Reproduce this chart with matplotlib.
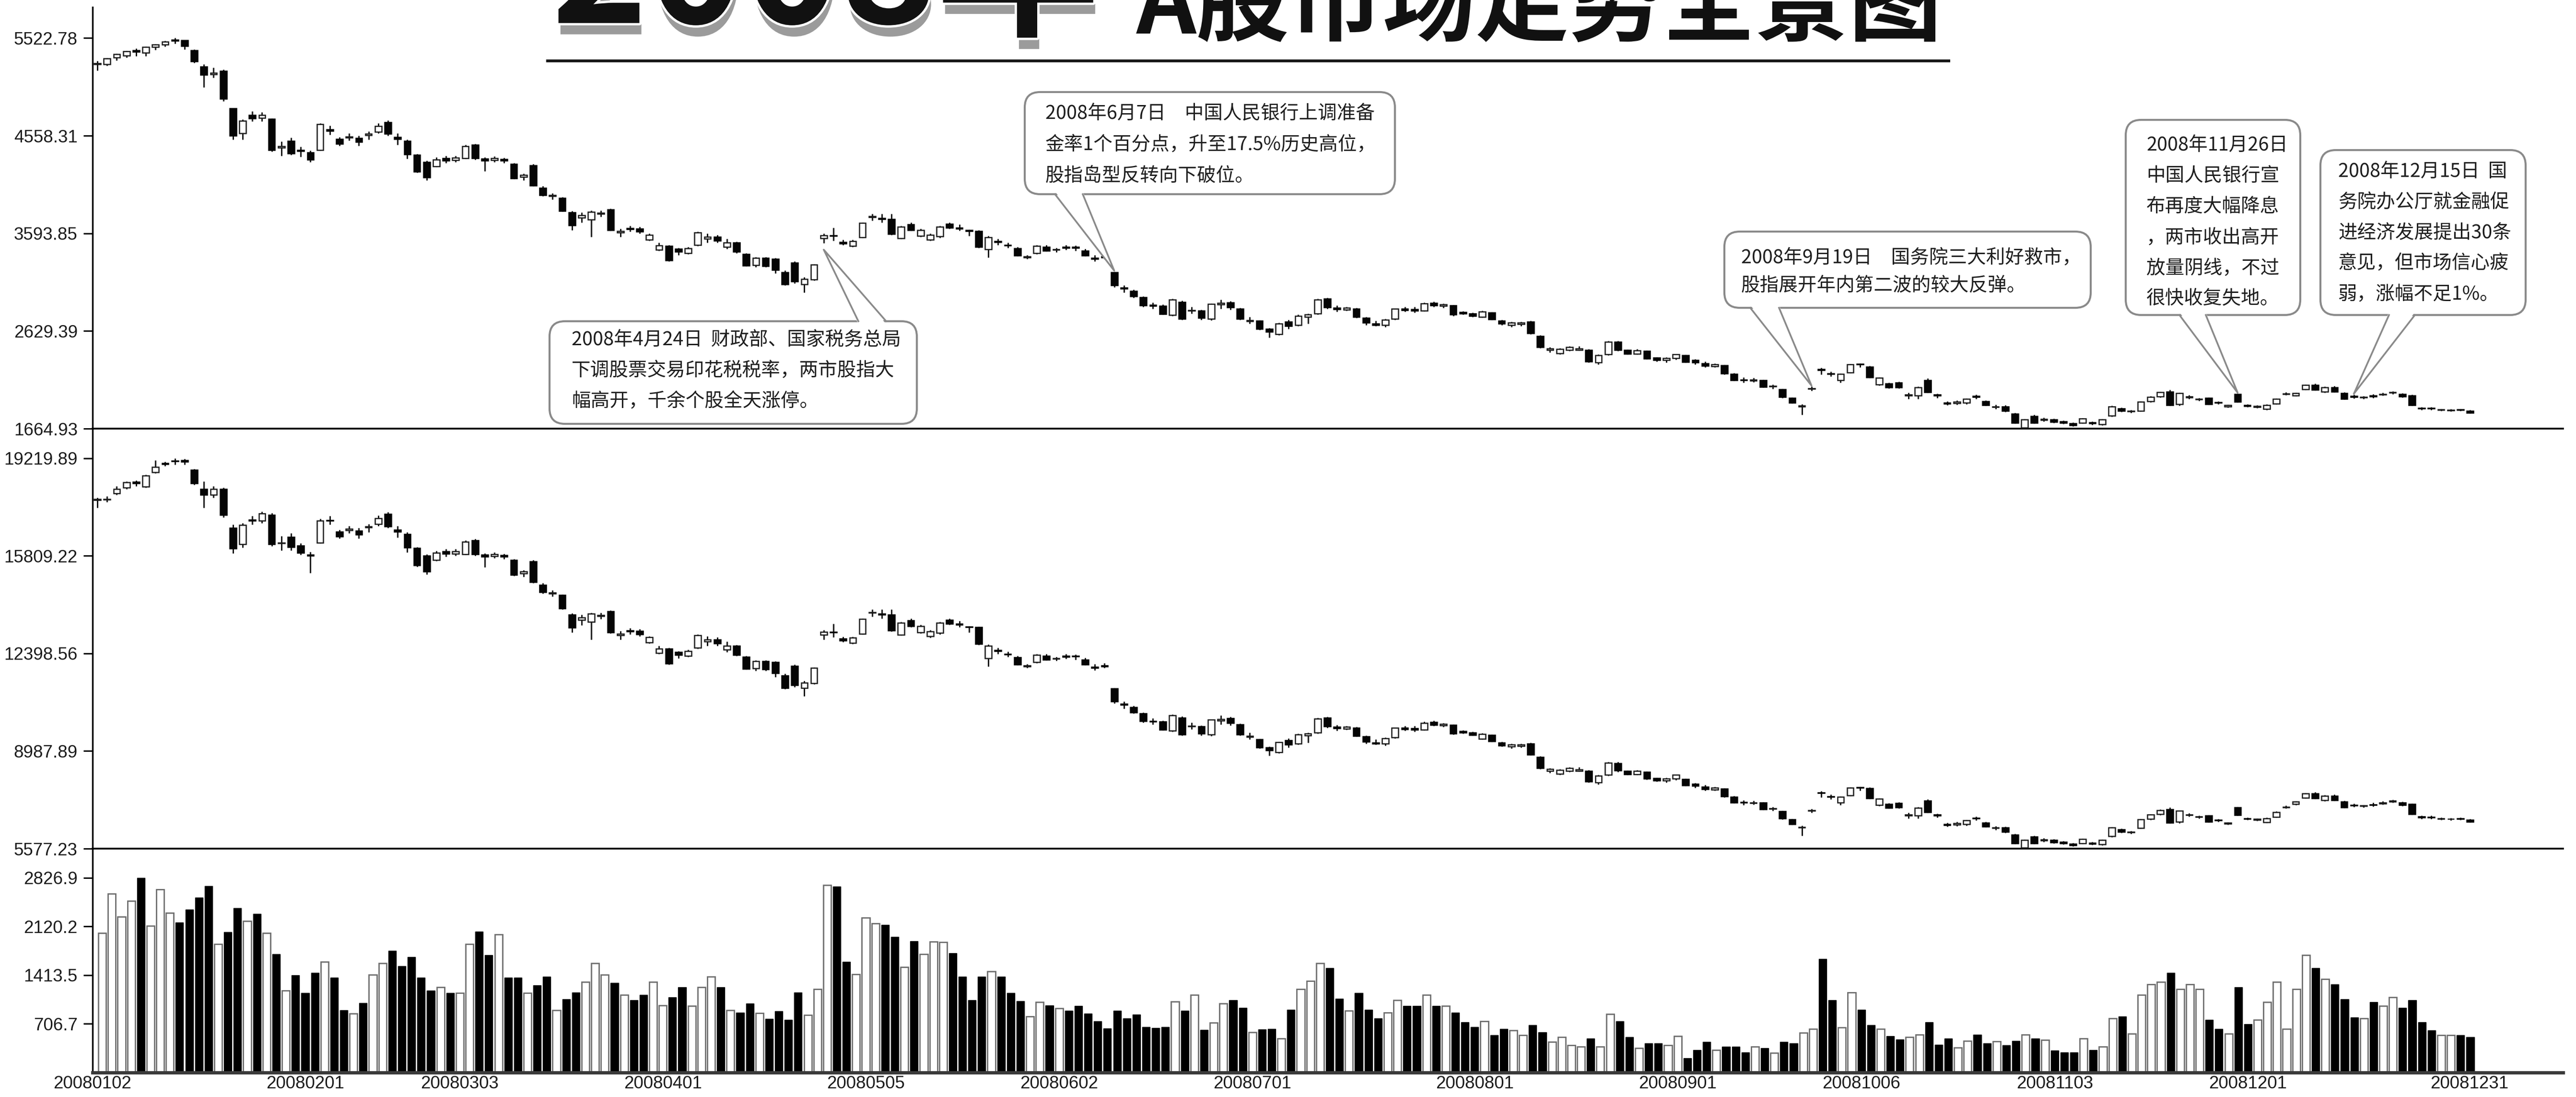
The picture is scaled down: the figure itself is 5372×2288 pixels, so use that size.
import numpy as np
import pandas as pd
import matplotlib
matplotlib.use('Agg')
import matplotlib.pyplot as plt
import matplotlib.patheffects as pe
from matplotlib.patches import FancyBboxPatch, Polygon

W, H = 5372, 2288
CJK = ['Noto Sans CJK SC', 'DejaVu Sans']
plt.rcParams['font.family'] = ['Liberation Sans', 'DejaVu Sans']

# trading calendar of 2008 (weekdays minus exchange holidays)
holidays = ['2008-01-01', '2008-02-06', '2008-02-07', '2008-02-08', '2008-02-11', '2008-02-12',
            '2008-04-04', '2008-05-01', '2008-05-02', '2008-06-09', '2008-09-15',
            '2008-09-29', '2008-09-30', '2008-10-01', '2008-10-02', '2008-10-03']
days = pd.bdate_range('2008-01-02', '2008-12-31')
days = days[~days.isin(pd.to_datetime(holidays))]

date_labels = ['20080102', '20080201', '20080303', '20080401', '20080505', '20080602', '20080701',
               '20080801', '20080901', '20081006', '20081103', '20081201', '20081231']

# Shanghai composite, daily (one row per month)
sh_open = [
    5265, 5262, 5330, 5350, 5400, 5380, 5435, 5460, 5505, 5500, 5400, 5238, 5165, 5200, 4826, 4584, 4764, 4735, 4722, 4440, 4504, 4415,
    4395, 4418, 4620, 4527, 4540, 4535, 4565, 4598, 4693, 4545, 4504, 4370, 4300, 4257, 4337, 4318,
    4337, 4470, 4330, 4315, 4325, 4281, 4150, 4267, 4044, 3960, 3944, 3802, 3750, 3731, 3785, 3831, 3600, 3645, 3640, 3532, 3430,
    3470, 3440, 3400, 3480, 3540, 3560, 3460, 3500, 3390, 3280, 3350, 3342, 3210, 3305, 3092, 3139, 3547, 3575, 3508, 3470, 3556,
    3755, 3745, 3736, 3547, 3684, 3570, 3532, 3565, 3688, 3650, 3625, 3617, 3437, 3515, 3480, 3446, 3357, 3400, 3461, 3430,
    3460, 3460, 3423, 3350, 3365, 3210, 3055, 3025, 2963, 2885, 2878, 2788, 2916, 2830, 2830, 2750, 2890, 2910, 2850, 2725,
    2730, 2650, 2600, 2720, 2690, 2770, 2800, 2950, 2860, 2840, 2850, 2760, 2700, 2690, 2750, 2850, 2845, 2830, 2905, 2875, 2880, 2815, 2800,
    2770, 2810, 2730, 2690, 2695, 2720, 2580, 2440, 2410, 2440, 2440, 2440, 2320, 2400, 2520, 2440, 2405, 2430, 2365, 2340, 2360,
    2390, 2340, 2310, 2280, 2290, 2205, 2150, 2140, 2144, 2080, 2054, 1968, 1885, 2060, 2250, 2210, 2144, 2220, 2305,
    2276, 2101, 2110, 2120, 1990, 1992, 2144, 2000, 1920, 1915, 1921, 1985, 1935, 1878, 1883, 1812, 1675, 1788, 1750, 1755,
    1735, 1717, 1722, 1725, 1708, 1793, 1864, 1835, 1840, 1935, 1982, 2030, 1906, 1975, 1955, 1968, 1925, 1885, 2006, 1895,
    1880, 1859, 1911, 2005, 1992, 2054, 2096, 2030, 2072, 2016, 1985, 1975, 1990, 2000, 2018, 2006, 1992, 1870, 1868, 1848, 1846, 1852, 1840,
]
sh_high = [
    5295, 5325, 5370, 5398, 5420, 5440, 5462, 5495, 5522.78, 5502, 5410, 5262, 5230, 5210, 4830, 4720, 4800, 4790, 4730, 4500, 4540, 4450,
    4410, 4680, 4660, 4545, 4580, 4560, 4600, 4680, 4710, 4580, 4520, 4380, 4310, 4345, 4360, 4360,
    4470, 4480, 4345, 4355, 4340, 4290, 4185, 4280, 4060, 3990, 3950, 3815, 3800, 3820, 3820, 3840, 3640, 3670, 3660, 3590, 3500,
    3480, 3450, 3460, 3610, 3590, 3580, 3540, 3510, 3400, 3360, 3360, 3350, 3230, 3320, 3160, 3290, 3590, 3650, 3530, 3530, 3700,
    3786, 3786, 3786, 3670, 3700, 3640, 3590, 3670, 3700, 3680, 3630, 3625, 3570, 3540, 3500, 3460, 3380, 3480, 3480, 3450,
    3480, 3475, 3440, 3380, 3390, 3215, 3080, 3040, 2970, 2910, 2890, 2950, 2930, 2870, 2840, 2900, 2940, 2925, 2860, 2770,
    2735, 2660, 2710, 2740, 2790, 2800, 2950, 2960, 2880, 2870, 2860, 2770, 2730, 2750, 2850, 2870, 2870, 2910, 2920, 2900, 2885, 2825, 2810,
    2830, 2815, 2740, 2720, 2720, 2730, 2590, 2470, 2460, 2480, 2480, 2450, 2400, 2530, 2530, 2445, 2450, 2435, 2370, 2370, 2400,
    2395, 2350, 2330, 2310, 2295, 2215, 2170, 2165, 2150, 2100, 2060, 1975, 1905, 2080, 2265, 2230, 2210, 2305, 2310,
    2285, 2170, 2120, 2130, 2020, 2080, 2160, 2010, 1935, 1945, 1965, 2000, 1945, 1900, 1895, 1820, 1760, 1800, 1775, 1765,
    1745, 1725, 1770, 1735, 1760, 1890, 1875, 1850, 1935, 1985, 2030, 2050, 2020, 1995, 1970, 1975, 1935, 1900, 2010, 1905,
    1895, 1905, 1965, 2025, 2020, 2100, 2110, 2080, 2085, 2025, 2000, 1985, 2005, 2020, 2035, 2015, 2000, 1880, 1880, 1860, 1858, 1860, 1848,
]
sh_low = [
    5202, 5250, 5300, 5330, 5345, 5345, 5405, 5440, 5470, 5410, 5280, 5035, 5130, 4900, 4520, 4520, 4700, 4700, 4400, 4360, 4370, 4350,
    4300, 4410, 4570, 4460, 4510, 4460, 4520, 4580, 4560, 4470, 4330, 4195, 4120, 4250, 4290, 4300,
    4330, 4320, 4210, 4300, 4290, 4130, 4120, 4060, 3960, 3930, 3810, 3627, 3700, 3560, 3760, 3620, 3560, 3610, 3590, 3520, 3420,
    3320, 3380, 3390, 3470, 3500, 3500, 3440, 3400, 3270, 3260, 3260, 3200, 3080, 3100, 3011, 3130, 3499, 3522, 3480, 3460, 3550,
    3720, 3700, 3580, 3540, 3620, 3560, 3520, 3550, 3640, 3620, 3570, 3450, 3357, 3480, 3450, 3370, 3340, 3390, 3415, 3410,
    3430, 3420, 3370, 3320, 3340, 3060, 3010, 2960, 2870, 2850, 2790, 2780, 2740, 2800, 2740, 2735, 2850, 2840, 2740, 2700,
    2640, 2566, 2590, 2650, 2680, 2700, 2790, 2850, 2820, 2830, 2760, 2690, 2680, 2670, 2740, 2820, 2810, 2825, 2870, 2860, 2780, 2790, 2770,
    2765, 2740, 2690, 2670, 2680, 2600, 2460, 2420, 2400, 2430, 2435, 2320, 2300, 2390, 2430, 2400, 2400, 2350, 2330, 2320, 2345,
    2320, 2300, 2270, 2270, 2200, 2140, 2120, 2125, 2070, 2060, 1970, 1915, 1802, 2040, 2200, 2180, 2120, 2215, 2270,
    2165, 2090, 2065, 2065, 1960, 1960, 2020, 1970, 1895, 1900, 1905, 1960, 1890, 1860, 1830, 1715, 1664.93, 1715, 1735, 1720,
    1710, 1690, 1715, 1705, 1700, 1785, 1830, 1820, 1835, 1925, 1975, 1890, 1890, 1960, 1940, 1900, 1905, 1875, 1925, 1880,
    1870, 1850, 1905, 1995, 1985, 2050, 2045, 2020, 2025, 1955, 1965, 1960, 1970, 1990, 2005, 1975, 1890, 1850, 1850, 1840, 1835, 1840, 1815,
]
sh_close = [
    5273, 5320, 5362, 5393, 5386, 5436, 5457, 5485, 5498, 5444, 5291, 5158, 5177, 4921, 4560, 4703, 4727, 4760, 4418, 4456, 4385, 4405,
    4323, 4674, 4605, 4480, 4551, 4497, 4575, 4655, 4575, 4527, 4376, 4205, 4148, 4323, 4314, 4340,
    4456, 4337, 4314, 4335, 4314, 4139, 4170, 4068, 3973, 3970, 3816, 3674, 3770, 3807, 3796, 3627, 3615, 3636, 3611, 3580, 3473,
    3329, 3411, 3446, 3600, 3560, 3520, 3500, 3412, 3275, 3349, 3272, 3233, 3092, 3120, 3144, 3286, 3575, 3570, 3494, 3518, 3698,
    3761, 3736, 3589, 3660, 3627, 3627, 3580, 3660, 3650, 3641, 3617, 3461, 3556, 3508, 3475, 3376, 3364, 3470, 3423, 3437,
    3450, 3452, 3376, 3343, 3357, 3082, 3049, 2972, 2883, 2878, 2797, 2939, 2750, 2836, 2760, 2896, 2905, 2862, 2748, 2736,
    2651, 2620, 2703, 2680, 2780, 2790, 2940, 2863, 2845, 2860, 2767, 2710, 2690, 2741, 2847, 2835, 2830, 2900, 2880, 2890, 2790, 2800, 2776,
    2820, 2745, 2700, 2710, 2712, 2605, 2470, 2457, 2450, 2470, 2455, 2330, 2390, 2523, 2443, 2405, 2438, 2358, 2340, 2360, 2397,
    2325, 2320, 2285, 2300, 2210, 2144, 2144, 2146, 2077, 2087, 1978, 1921, 1890, 2063, 2243, 2205, 2205, 2300, 2300,
    2172, 2167, 2072, 2074, 2000, 2072, 2025, 1992, 1911, 1930, 1959, 1978, 1897, 1885, 1840, 1722, 1755, 1722, 1762, 1731,
    1720, 1698, 1764, 1717, 1755, 1883, 1840, 1840, 1930, 1978, 2025, 1897, 2016, 1980, 1960, 1906, 1920, 1895, 1930, 1888,
    1888, 1897, 1959, 2011, 2016, 2096, 2049, 2072, 2030, 1959, 1978, 1979, 1982, 2006, 2025, 1982, 1897, 1864, 1862, 1852, 1850, 1848, 1821,
]

# Shenzhen component, daily (one row per month)
sz_open = [
    17760, 17780, 17996, 18197, 18400, 18231, 18734, 19050, 19130, 19150, 18818, 18147, 17946, 18147, 16790, 16220, 17080, 17041, 17242, 16250, 16471, 16169,
    15850, 16270, 17060, 16659, 16707, 16689, 16799, 16921, 17270, 16726, 16575, 16082, 15824, 15666, 15960, 15890,
    15873, 16360, 15848, 15793, 15830, 15668, 15189, 15617, 14801, 14494, 14435, 13763, 13575, 13506, 13702, 13868, 13032, 13195, 13177, 12786, 12417,
    12561, 12453, 12308, 12598, 12815, 12887, 12525, 12670, 12272, 11874, 12127, 12098, 11620, 11964, 11193, 11363, 13053, 13156, 12909, 12770, 13086,
    13818, 13782, 13748, 13053, 13557, 13138, 12998, 13119, 13572, 13432, 13340, 13311, 12236, 12513, 12389, 12268, 11951, 12104, 12321, 12211,
    12318, 12318, 12186, 11926, 11979, 11171, 10631, 10527, 10311, 10040, 10015, 9702, 10148, 9848, 9848, 9570, 10057, 10127, 9918, 9483,
    9391, 9116, 8944, 9357, 9254, 9529, 9632, 10148, 9838, 9770, 9804, 9494, 9288, 9254, 9460, 9804, 9787, 9735, 9993, 9890, 9907, 9684, 9632,
    9418, 9554, 9282, 9146, 9163, 9248, 8772, 8296, 8194, 8296, 8296, 8296, 7888, 8160, 8568, 8296, 8177, 8262, 8041, 7956, 8024,
    8007, 7839, 7739, 7638, 7672, 7387, 7203, 7169, 7182, 6968, 6881, 6593, 6315, 6901, 7538, 7404, 7182, 7437, 7722,
    7693, 7101, 7132, 7166, 6726, 6733, 7247, 6760, 6432, 6415, 6435, 6650, 6482, 6291, 6308, 6070, 5611, 5990, 5863, 5879,
    5812, 5752, 5769, 5779, 5722, 6007, 6244, 6147, 6293, 6618, 6778, 6943, 6519, 6755, 6686, 6731, 6584, 6447, 7021, 6633,
    6580, 6507, 6689, 7018, 7131, 7353, 7504, 7267, 7418, 7217, 7106, 7071, 7124, 7160, 7224, 7181, 7131, 6695, 6687, 6616, 6609, 6630, 6587,
]
sz_high = [
    17850, 17900, 18250, 18420, 18450, 18650, 19150, 19100, 19219.89, 19200, 18850, 18415, 18250, 18200, 16900, 16950, 17200, 17350, 17300, 16500, 16600, 16250,
    15950, 17100, 17200, 16726, 16854, 16781, 16928, 17222, 17333, 16854, 16634, 16118, 15861, 15990, 16045, 16045,
    16360, 16397, 15903, 15939, 15884, 15701, 15317, 15665, 14860, 14603, 14457, 13810, 13756, 13828, 13828, 13901, 13177, 13285, 13249, 12996, 12670,
    12598, 12489, 12525, 13068, 12996, 12960, 12815, 12706, 12308, 12163, 12163, 12127, 11693, 12018, 11439, 11910, 13211, 13432, 12990, 12990, 13616,
    13932, 13932, 13932, 13506, 13616, 13395, 13211, 13506, 13616, 13542, 13358, 13340, 12709, 12602, 12460, 12318, 12033, 12389, 12389, 12282,
    12389, 12371, 12246, 12033, 12068, 11188, 10718, 10579, 10336, 10127, 10057, 10266, 10196, 9988, 9883, 10092, 10231, 10179, 9953, 9640,
    9408, 9150, 9322, 9426, 9598, 9632, 10148, 10182, 9907, 9873, 9838, 9529, 9391, 9460, 9804, 9873, 9873, 10010, 10045, 9976, 9924, 9718, 9666,
    9622, 9571, 9316, 9248, 9248, 9282, 8806, 8398, 8364, 8432, 8432, 8330, 8160, 8602, 8602, 8313, 8330, 8279, 8058, 8058, 8160,
    8023, 7873, 7806, 7739, 7688, 7420, 7270, 7253, 7203, 7035, 6901, 6616, 6382, 6968, 7588, 7471, 7404, 7722, 7739,
    7723, 7335, 7166, 7199, 6828, 7030, 7301, 6794, 6482, 6516, 6583, 6700, 6516, 6365, 6348, 6097, 5896, 6030, 5946, 5913,
    5846, 5779, 5930, 5812, 5896, 6332, 6281, 6198, 6618, 6789, 6943, 7011, 6908, 6823, 6737, 6755, 6618, 6498, 7035, 6668,
    6633, 6668, 6878, 7088, 7232, 7518, 7554, 7446, 7464, 7250, 7160, 7106, 7178, 7232, 7285, 7214, 7160, 6730, 6730, 6659, 6652, 6659, 6616,
]
sz_low = [
    17494, 17700, 17950, 18150, 18250, 18200, 18700, 18950, 19000, 19000, 18300, 17494, 17850, 17150, 15900, 16100, 16900, 16950, 16150, 16000, 16000, 15850,
    15214, 16250, 16900, 16413, 16597, 16413, 16634, 16854, 16781, 16450, 15934, 15438, 15162, 15640, 15787, 15824,
    15848, 15811, 15409, 15738, 15701, 15116, 15079, 14860, 14494, 14384, 13945, 13130, 13394, 12887, 13611, 13104, 12887, 13068, 12996, 12742, 12380,
    12018, 12236, 12272, 12561, 12670, 12670, 12453, 12308, 11837, 11801, 11801, 11584, 11150, 11222, 10900, 11331, 12876, 12961, 12806, 12733, 13064,
    13690, 13616, 13174, 13027, 13322, 13101, 12954, 13064, 13395, 13322, 13138, 12696, 11951, 12389, 12282, 11997, 11890, 12068, 12157, 12140,
    12211, 12175, 11997, 11819, 11890, 10649, 10475, 10301, 9988, 9918, 9709, 9674, 9535, 9744, 9535, 9518, 9918, 9883, 9535, 9396,
    9082, 8827, 8910, 9116, 9219, 9288, 9598, 9804, 9701, 9735, 9494, 9254, 9219, 9185, 9426, 9701, 9666, 9718, 9873, 9838, 9563, 9598, 9529,
    9401, 9316, 9146, 9078, 9112, 8840, 8364, 8228, 8160, 8262, 8279, 7888, 7820, 8126, 8262, 8160, 8160, 7990, 7922, 7888, 7973,
    7772, 7705, 7605, 7605, 7370, 7169, 7102, 7119, 6935, 6901, 6600, 6415, 6037, 6834, 7370, 7303, 7102, 7420, 7605,
    7318, 7064, 6980, 6980, 6625, 6625, 6828, 6659, 6348, 6365, 6382, 6566, 6332, 6231, 6131, 5745, 5577.23, 5745, 5812, 5762,
    5729, 5662, 5745, 5712, 5695, 5980, 6131, 6097, 6276, 6584, 6755, 6464, 6464, 6703, 6635, 6498, 6515, 6413, 6738, 6580,
    6545, 6475, 6668, 6983, 7106, 7339, 7321, 7232, 7250, 6999, 7035, 7017, 7053, 7124, 7178, 7071, 6766, 6623, 6623, 6587, 6569, 6587, 6498,
]
sz_close = [
    17795, 17800, 18147, 18382, 18348, 18617, 18918, 19019, 19119, 19100, 18348, 17946, 18147, 17242, 16069, 16890, 17041, 17292, 16220, 16270, 16119, 15918,
    15818, 17041, 17041, 16486, 16748, 16549, 16836, 17130, 16836, 16659, 16104, 15474, 15265, 15909, 15876, 15971,
    16309, 15873, 15789, 15866, 15789, 15149, 15262, 14889, 14541, 14530, 13967, 13300, 13647, 13781, 13742, 13130, 13086, 13162, 13072, 12960, 12572,
    12051, 12348, 12475, 13032, 12887, 12742, 12670, 12351, 11856, 12123, 11845, 11703, 11193, 11294, 11381, 11895, 13156, 13138, 12858, 12946, 13609,
    13840, 13748, 13208, 13469, 13347, 13347, 13174, 13469, 13432, 13399, 13311, 12736, 12659, 12488, 12371, 12019, 11976, 12353, 12186, 12236,
    12282, 12289, 12019, 11901, 11951, 10725, 10611, 10343, 10033, 10015, 9734, 10228, 9570, 9869, 9605, 10078, 10109, 9960, 9563, 9521,
    9119, 9013, 9298, 9219, 9563, 9598, 10114, 9849, 9787, 9838, 9518, 9322, 9254, 9429, 9794, 9752, 9735, 9976, 9907, 9942, 9598, 9632, 9549,
    9588, 9333, 9180, 9214, 9221, 8857, 8398, 8354, 8330, 8398, 8347, 7922, 8126, 8578, 8306, 8177, 8289, 8017, 7956, 8024, 8150,
    7789, 7772, 7655, 7705, 7404, 7182, 7182, 7189, 6958, 6991, 6626, 6435, 6332, 6911, 7514, 7387, 7387, 7705, 7705,
    7341, 7324, 7003, 7010, 6760, 7003, 6845, 6733, 6402, 6466, 6563, 6626, 6355, 6315, 6164, 5769, 5879, 5769, 5903, 5799,
    5762, 5688, 5909, 5752, 5879, 6308, 6164, 6164, 6601, 6765, 6926, 6488, 6895, 6772, 6703, 6519, 6566, 6481, 6755, 6608,
    6608, 6640, 6857, 7039, 7217, 7504, 7335, 7418, 7267, 7013, 7081, 7085, 7096, 7181, 7250, 7096, 6791, 6673, 6666, 6630, 6623, 6616, 6519,
]

# turnover (100m yuan)
volume = [
    2029, 2598, 2264, 2493, 2826.9, 2133, 2660, 2321, 2181, 2368, 2544, 2708, 1865, 2037, 2389, 2199, 2303, 2029, 1716, 1193, 1416, 1159,
    1447, 1611, 1377, 907, 854, 1011, 1420, 1585, 1768, 1546, 1677, 1377, 1193, 1238, 1154, 1154,
    1865, 2047, 1709, 2006, 1379, 1379, 1156, 1267, 1392, 906, 1066, 1166, 1319, 1586, 1419, 1302, 1131, 1048, 1131, 1319, 978,
    1095, 1237, 967, 1237, 1392, 1237, 906, 871, 1002, 864, 782, 891, 766, 1166, 836, 1213, 2722, 2699, 1608, 1427, 2250,
    2163, 2145, 1968, 1532, 1908, 1720, 1897, 1891, 1734, 1392, 1048, 1392, 1466, 1392, 1156, 1037, 815, 1024, 978, 930,
    895, 967, 859, 742, 641, 895, 789, 842, 661, 650, 661, 1032, 895, 1131, 617, 725, 1002, 1048, 942, 588,
    624, 635, 494, 914, 1213, 1331, 1590, 1520, 1072, 895, 1156, 914, 789, 871, 1048, 966, 966, 1131, 966, 966, 871, 730, 664,
    748, 546, 636, 612, 546, 687, 588, 447, 517, 400, 376, 494, 376, 849, 742, 517, 357, 424, 424, 400, 529,
    211, 329, 447, 329, 376, 376, 294, 376, 357, 282, 447, 424, 577, 636, 1650, 1048, 654, 1166, 914,
    687, 636, 529, 482, 517, 553, 730, 405, 494, 364, 459, 553, 428, 452, 400, 459, 553, 494, 471, 318,
    294, 294, 494, 329, 376, 789, 813, 565, 1131, 1284, 1319, 1449, 1213, 1284, 1213, 766, 636, 565, 1237, 706,
    766, 1024, 1319, 636, 1213, 1709, 1520, 1355, 1284, 1066, 801, 789, 1024, 966, 1095, 942, 1048, 730, 612, 546, 541, 546, 517,
]

notes = [
    ['2008年4月24日  财政部、国家税务总局', '下调股票交易印花税税率，两市股指大', '幅高开，千余个股全天涨停。'],
    ['2008年6月7日\u3000中国人民银行上调准备', '金率1个百分点，升至17.5%历史高位，', '股指岛型反转向下破位。'],
    ['2008年9月19日\u3000国务院三大利好救市，', '股指展开年内第二波的较大反弹。'],
    ['2008年11月26日', '中国人民银行宣', '布再度大幅降息', '，两市收出高开', '放量阴线，不过', '很快收复失地。'],
    ['2008年12月15日  国', '务院办公厅就金融促', '进经济发展提出30条', '意见，但市场信心疲', '弱，涨幅不足1%。'],
]
note_days = [75, 105, 177, 221, 233]

for s in (sh_open, sh_high, sh_low, sh_close, sz_open, sz_high, sz_low, sz_close, volume):
    assert len(s) == len(days) == 246


def candles(ax, o, h, l, c):
    o, h, l, c = (np.asarray(a, float) for a in (o, h, l, c))
    x = np.arange(len(o))
    up = c >= o
    ax.vlines(x, l, h, color='#111111', lw=2.1, zorder=2)
    bot = np.minimum(o, c)
    hgt = np.abs(c - o)
    ax.bar(x[up], hgt[up], 0.68, bot[up], facecolor='white', edgecolor='#1a1a1a', lw=1.8, zorder=3)
    ax.bar(x[~up], hgt[~up], 0.68, bot[~up], facecolor='#050505', edgecolor='#050505', lw=1.8, zorder=3)


def setup(ax, ticks, labels, lo, hi):
    ax.set_xlim(-0.5, 254.6)
    ax.set_ylim(lo, hi)
    ax.spines['top'].set_visible(False)
    ax.spines['right'].set_visible(False)
    ax.spines['left'].set_linewidth(2.5)
    ax.spines['bottom'].set_linewidth(2.6)
    ax.set_yticks(ticks)
    ax.set_yticklabels(labels)
    ax.tick_params(axis='y', direction='out', length=13.5, width=2.2, pad=9,
                   labelsize=26.5, labelcolor='#1c1c1c')
    ax.set_xticks([])
    ax.patch.set_alpha(0)


def px_axes(l, t, r, b):
    return fig.add_axes([l / W, 1 - b / H, (r - l) / W, (b - t) / H])


fig = plt.figure(figsize=(W / 100, H / 100), dpi=100)
ax1 = px_axes(193, 15, 5345, 894)
ax2 = px_axes(193, 894, 5345, 1770)
ax3 = px_axes(193, 1770, 5345, 2237)

# index panels: five ticks from the year high to the year low, printed truncated
for ax, o, h, l, c, head in ((ax1, sh_open, sh_high, sh_low, sh_close, 1.079),
                             (ax2, sz_open, sz_high, sz_low, sz_close, 1.076)):
    candles(ax, o, h, l, c)
    lo, hi = min(l), max(h)
    ticks = np.linspace(hi, lo, 5)
    setup(ax, ticks, ['%.2f' % (np.floor(t * 100 + 1e-6) / 100) for t in ticks],
          lo, lo + (hi - lo) * head)

# volume panel
x = np.arange(246)
up = np.array(sh_close) >= np.array(sh_open)
vol = np.array(volume)
ax3.bar(x[up], vol[up], 0.8, color='white', edgecolor='#6e6e6e', lw=2.0)
ax3.bar(x[~up], vol[~up], 0.8, color='black', edgecolor='black', lw=1.0)
vmax = vol.max()
vticks = vmax * np.array([1, 0.75, 0.5, 0.25])
setup(ax3, vticks, ['%.1f' % t for t in vticks], 0, vmax * 1.15)
ax3.spines['bottom'].set_linewidth(5)
ax3.spines['bottom'].set_color('#3a3a3a')
pos = [list(days).index(pd.Timestamp(d)) - 1.0 for d in date_labels]
pos[-1] += 0.9
ax3.set_xticks(pos)
ax3.set_xticklabels(date_labels)
ax3.tick_params(axis='x', length=0, pad=4, labelsize=26.5, labelcolor='#1c1c1c')

# overlay in image pixels for title and callouts
ov = fig.add_axes([0, 0, 1, 1], zorder=10)
ov.set_xlim(0, W)
ov.set_ylim(H, 0)
ov.axis('off')
ov.patch.set_alpha(0)

ov.text(1150, 48, '2008年', fontsize=245, fontweight='bold', family=CJK, color='#111111',
        ha='left', va='baseline',
        path_effects=[pe.SimplePatchShadow(offset=(3, -17), shadow_rgbFace='#9b9b9b', alpha=1.0),
                      pe.Stroke(linewidth=7, foreground='white'), pe.Normal()])
ov.text(2370, 70, 'A股市场走势全景图', fontsize=140, fontweight='bold', family=CJK, color='#111111',
        ha='left', va='baseline')
ov.plot([1139, 4067], [127, 127], color='#1a1a1a', lw=4.3, solid_capstyle='butt')

boxes = [(1146, 670, 1912, 884), (2137, 192, 2909, 405), (3596, 483, 4360, 642),
         (4433, 250, 4797, 657), (4839, 313, 5267, 657)]
bases = [(1790, 1848, 670), (2200, 2258, 405), (3650, 3710, 642), (4545, 4600, 657), (4982, 5036, 657)]
text_xy = [(1192, 710, 63.5), (2180, 237, 65.5), (3631, 538, 59), (4476, 303, 64), (4876, 358, 63.8)]
tip_from = ['low', 'high', 'high', 'high', 'high']

for k in range(5):
    x0, y0, x1, y1 = boxes[k]
    d = note_days[k]
    val = sh_low[d] if tip_from[k] == 'low' else sh_high[d]
    tx, ty = ax1.transData.transform((d, val))
    ty = H - ty + (14 if tip_from[k] == 'low' else -2)
    ov.add_patch(FancyBboxPatch((x0, y0), x1 - x0, y1 - y0,
                                boxstyle='round,pad=0,rounding_size=32',
                                fc='white', ec='#8a8a8a', lw=3, zorder=5))
    bx0, bx1, by = bases[k]
    inset = 6 if by == y0 else -6
    ov.add_patch(Polygon([(bx0, by + inset), (tx, ty), (bx1, by + inset)], closed=True,
                         fc='white', ec='none', zorder=6))
    ov.plot([bx0, tx, bx1], [by, ty, by], color='#8a8a8a', lw=2.6, zorder=7)
    lx, ly, step = text_xy[k]
    for j, line in enumerate(notes[k]):
        ov.text(lx, ly + j * step, line, fontsize=28.5, family=CJK, color='#1e1e1e',
                ha='left', va='center', zorder=8)

fig.savefig('out.png', dpi=100)
